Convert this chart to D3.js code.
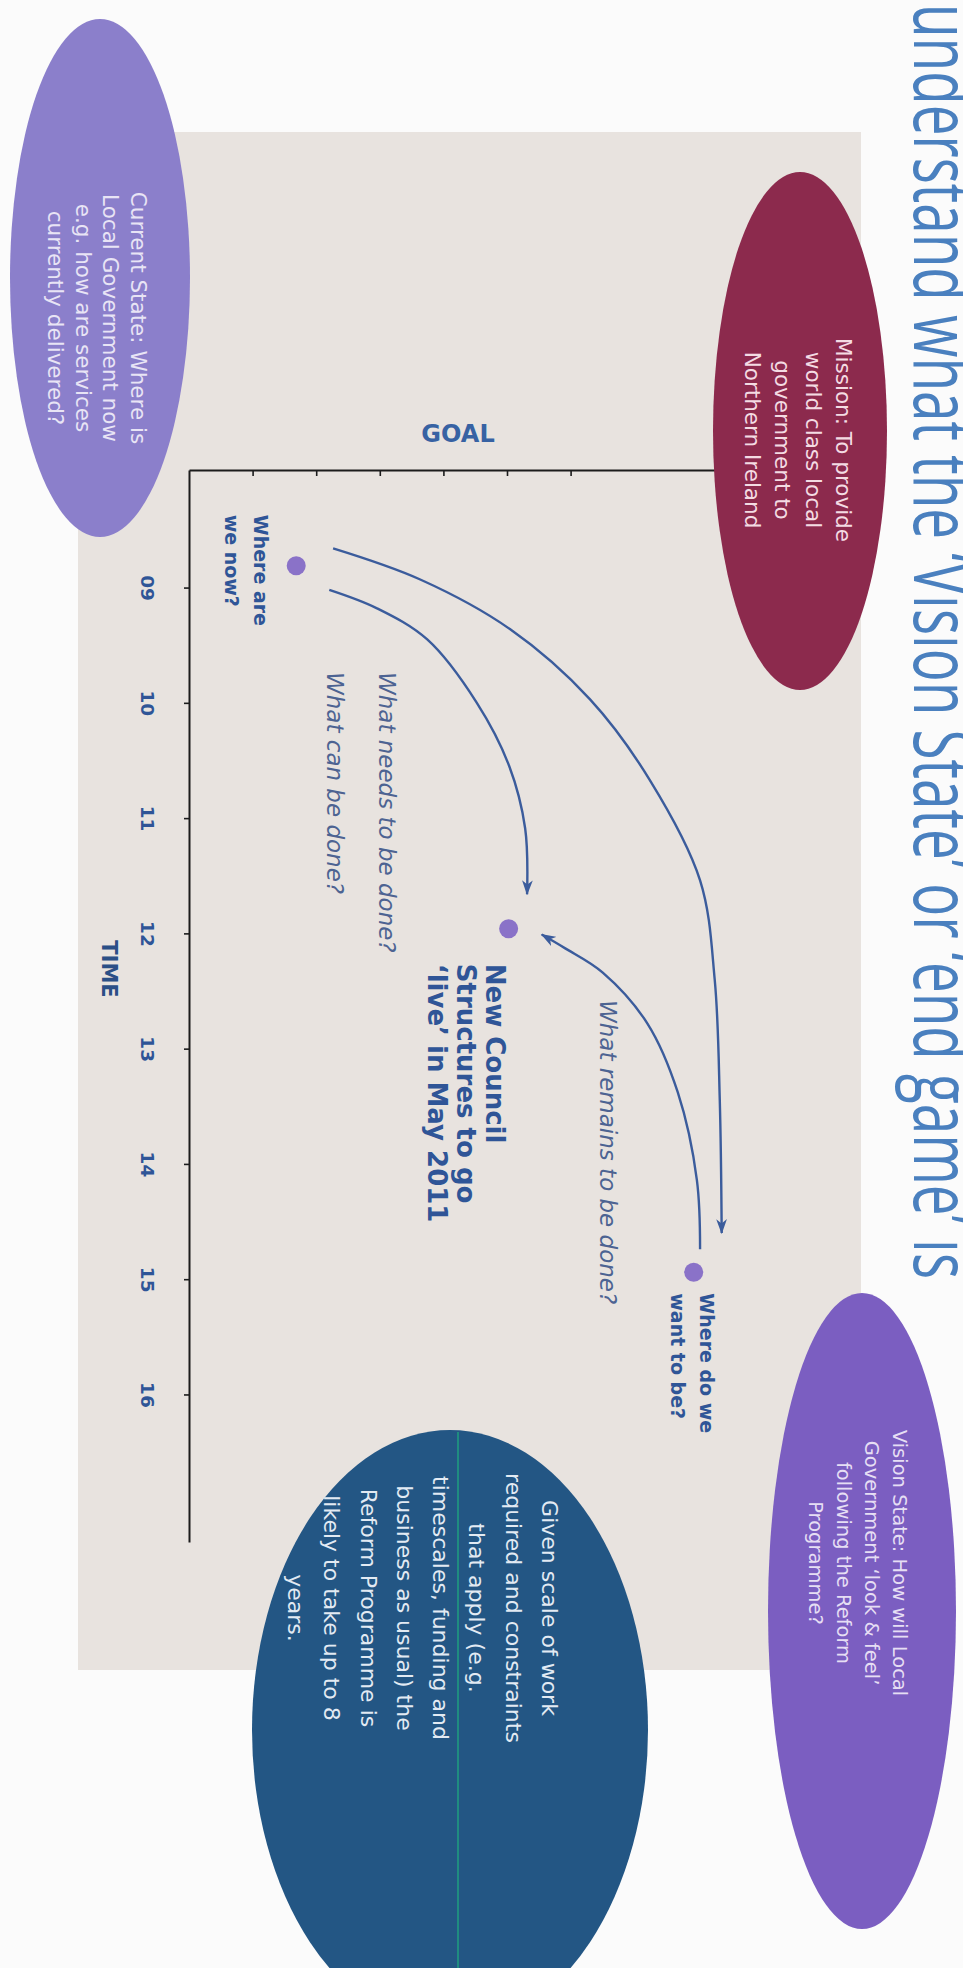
<!DOCTYPE html>
<html><head><meta charset="utf-8">
<script src="https://cdn.jsdelivr.net/npm/d3@7"></script>
<style>html,body{margin:0;padding:0;background:#fbfbfb;}svg{display:block}</style>
</head><body>
<svg id="c" width="963" height="1968"></svg>
<script>
// ---------- data ----------
const yearTicks = [9, 10, 11, 12, 13, 14, 15, 16];
const yearTickLabels = ["09", "10", "11", "12", "13", "14", "15", "16"];
const goalTicks = [1, 2, 3, 4, 5, 6];
const axisTitles = ["TIME", "GOAL"];

const milestoneYears = [8.81, 11.96, 14.94];
const milestoneGoals = [1.67, 5.01, 7.92];
const milestoneLabels = [
  ["Where are", "we now?"],
  ["New Council", "Structures to go", "\u2018live\u2019 in May 2011"],
  ["Where do we", "want to be?"]
];

// arrow paths as [year, goal]
const arrowInner = [[9.02,2.19],[9.18,2.94],[9.45,3.73],[10.0,4.51],[10.55,5.02],[11.09,5.27],[11.66,5.30]];
const arrowOuter = [[8.66,2.25],[8.93,3.62],[9.36,5.03],[9.97,6.29],[10.67,7.23],[11.54,8.02],[12.40,8.25],[13.45,8.33],[14.60,8.36]];
const arrowBack  = [[14.74,8.02],[14.14,7.97],[13.38,7.67],[12.78,7.19],[12.34,6.49],[12.13,5.90],[12.01,5.53]];
const arrowNotes = ["What needs to be done?", "What can be done?", "What remains to be done?"];

const titleText = "understand what the \u2018Vision State\u2019 or \u2018end game\u2019 is";
const currentText = ["Current State: Where is", "Local Government now", "e.g. how are services", "currently delivered?"];
const missionText = ["Mission: To provide", "world class local", "government to", "Northern Ireland"];
const visionText  = ["Vision State: How will Local", "Government \u2018look & feel\u2019", "following the Reform", "Programme?"];
const durationText = ["Given scale of work", "required and constraints", "that apply (e.g.", "timescales, funding and", "business as usual) the", "Reform Programme is", "likely to take up to 8", "years."];

// ---------- drawing (chart is built upright, then turned 90deg clockwise) ----------
const W = 963, H = 1968;
const svg = d3.select("#c");
const g = svg.append("g").attr("transform", `translate(${W},0) rotate(90)`);
const FONT = "'DejaVu Sans', Verdana, sans-serif";
const TFONT = "'Open Sans', sans-serif";
const BLUE = "#2f5597", ARROW = "#3b5c9c", NOTE = "#4d6392";

// panel background
g.append("rect").attr("x", 132).attr("y", 102).attr("width", 1538).attr("height", 783).attr("fill", "#e8e3df");

const x = d3.scaleLinear().domain([7.98, 17.28]).range([470, 1542]);
const y = d3.scaleLinear().domain([0, 8.3]).range([773, 773 - 8.3 * 63.6]);

// TIME axis
const ax = g.append("g").attr("transform", `translate(0,${y(0)})`)
  .call(d3.axisBottom(x).tickValues(yearTicks).tickFormat((d, i) => yearTickLabels[i])
    .tickSizeInner(6).tickSizeOuter(0).tickPadding(30));
ax.select(".domain").attr("stroke", "#1c1c1c").attr("stroke-width", 2);
ax.selectAll(".tick line").attr("stroke", "#1c1c1c").attr("stroke-width", 1.6);
ax.selectAll(".tick text").attr("font-family", FONT).attr("font-weight", 700)
  .attr("font-size", 18.5).attr("fill", BLUE);

// GOAL axis
const ay = g.append("g").attr("transform", `translate(${x(7.98)},0)`)
  .call(d3.axisLeft(y).tickValues(goalTicks).tickFormat("").tickSizeInner(-6).tickSizeOuter(0));
ay.select(".domain").attr("stroke", "#1c1c1c").attr("stroke-width", 2);
ay.selectAll(".tick line").attr("stroke", "#1c1c1c").attr("stroke-width", 1.6);

// axis titles
g.append("text").attr("x", 969).attr("y", 861).attr("text-anchor", "middle")
  .attr("font-family", FONT).attr("font-weight", 700).attr("font-size", 21).attr("fill", "#2b4f86")
  .text(axisTitles[0]);
g.append("text").attr("transform", "translate(442,505) rotate(-90)").attr("text-anchor", "middle")
  .attr("font-family", FONT).attr("font-weight", 700).attr("font-size", 24).attr("fill", "#3762a3")
  .text(axisTitles[1]);

// arrows
const defs = svg.append("defs");
defs.append("marker").attr("id", "ah").attr("viewBox", "0 0 14 10").attr("refX", 13).attr("refY", 5)
  .attr("markerWidth", 15).attr("markerHeight", 11).attr("markerUnits", "userSpaceOnUse").attr("orient", "auto")
  .append("path").attr("d", "M0,0 L14,5 L0,10 L4,5 Z").attr("fill", ARROW);
const line = d3.line().x(d => x(d[0])).y(d => y(d[1])).curve(d3.curveCatmullRom.alpha(0.5));
g.selectAll("path.arrow").data([arrowInner, arrowOuter, arrowBack]).join("path")
  .attr("class", "arrow").attr("d", line).attr("fill", "none")
  .attr("stroke", ARROW).attr("stroke-width", 2.4).attr("marker-end", "url(#ah)");

// arrow notes
const notePos = [[672, 584], [672, 636], [1000, 363]];
g.selectAll("text.note").data(arrowNotes).join("text").attr("class", "note")
  .attr("x", (d, i) => notePos[i][0]).attr("y", (d, i) => notePos[i][1])
  .attr("font-family", FONT).attr("font-style", "italic").attr("font-size", 23).attr("fill", NOTE)
  .text(d => d);

// milestones
g.selectAll("circle.ms").data(milestoneYears).join("circle").attr("class", "ms")
  .attr("cx", (d) => x(d)).attr("cy", (d, i) => y(milestoneGoals[i])).attr("r", 9.5).attr("fill", "#8a72c8");

const labelOff = [{dx: -51, dy: 42, lh: 29, fs: 19}, {dx: 35, dy: 23, lh: 29, fs: 26}, {dx: 21, dy: -6, lh: 29, fs: 19}];
milestoneLabels.forEach((lines, i) => {
  const o = labelOff[i];
  const t = g.append("text").attr("font-family", FONT).attr("font-weight", 700)
    .attr("font-size", o.fs).attr("fill", BLUE);
  lines.forEach((s, k) => t.append("tspan").attr("x", x(milestoneYears[i]) + o.dx)
    .attr("y", y(milestoneGoals[i]) + o.dy + k * o.lh).text(s));
});

// bubbles
function bubble(cx, cy, rx, ry, fill, lines, tx, ty0, lh, fs, tcol) {
  g.append("ellipse").attr("cx", cx).attr("cy", cy).attr("rx", rx).attr("ry", ry).attr("fill", fill);
  const t = g.append("text").attr("font-family", FONT).attr("font-size", fs).attr("fill", tcol)
    .attr("text-anchor", "middle");
  lines.forEach((s, k) => t.append("tspan").attr("x", tx).attr("y", ty0 + k * lh).text(s));
}
bubble(278, 863, 259, 90, "#8b7fcb", currentText, 318, 832, 27.7, 21.5, "#e8e4f5");
bubble(431, 163, 259, 87, "#8c2a4d", missionText, 440, 127, 30.5, 21.5, "#f4dbe3");
bubble(1611, 101, 318, 94, "#7b5ec1", visionText, 1563, 70, 28, 19.5, "#e6def4");
bubble(1730, 513, 300, 198, "#235684", durationText, 1608, 421, 36.3, 22, "#e2eaf3");
g.append("line").attr("x1", 1432).attr("x2", 2000).attr("y1", 505).attr("y2", 505)
  .attr("stroke", "#1f8c80").attr("stroke-width", 2);

// cut-off heading
g.append("text").attr("x", 4).attr("y", 49).attr("font-family", TFONT).attr("font-size", 80)
  .attr("fill", "#4a80bf").attr("textLength", 1275).attr("lengthAdjust", "spacingAndGlyphs")
  .text(titleText);
</script>
</body></html>
